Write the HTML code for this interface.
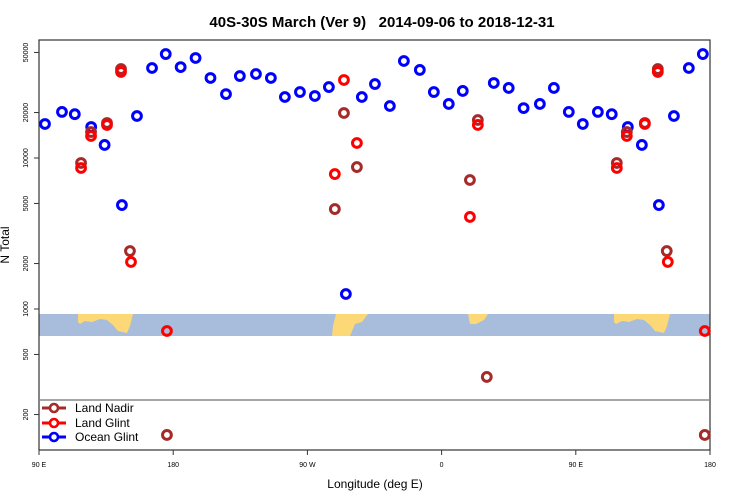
<!DOCTYPE html>
<html><head><meta charset="utf-8"><style>
body{margin:0;background:#fff;}
svg{display:block;font-family:"Liberation Sans",sans-serif;}
</style></head><body>
<svg id="chart" width="750" height="500" xmlns="http://www.w3.org/2000/svg">
<text x="382" y="27" text-anchor="middle" font-size="15" font-weight="bold">40S-30S March (Ver 9)&#160;&#160; 2014-09-06 to 2018-12-31</text>
<g id="map">
<rect x="39" y="314" width="671" height="22" fill="#a7bddb"/>
<polygon fill="#fcd877" points="78,314 133,314 130,326 127,333 118,331 113,325 107,320 100,319 92,322 85,321 80,324 78,322"/>
<polygon fill="#fcd877" points="336,314 368,314 362,322 355,324 350,336 332,336 333,326"/>
<polygon fill="#fcd877" points="468,314 488,314 484,320 476,324 470,324"/>
<polygon fill="#fcd877" points="614,314 670,314 667,326 664,333 655,331 650,325 644,320 637,319 629,322 622,321 616,324 614,322"/>
</g>
<g id="axes"></g>
<g id="marks"></g>
<g>
<line x1="39" y1="400" x2="710" y2="400" stroke="#888" stroke-width="1.5"/>
<g><line x1="42" y1="408" x2="66" y2="408" stroke="#a52a2a" stroke-width="3"/><circle cx="54" cy="408" r="4" fill="#fff" stroke="#a52a2a" stroke-width="2.6"/><text x="75" y="412" font-size="12">Land Nadir</text></g>
<g><line x1="42" y1="423" x2="66" y2="423" stroke="#ff0000" stroke-width="3"/><circle cx="54" cy="423" r="4" fill="#fff" stroke="#ff0000" stroke-width="2.6"/><text x="75" y="427" font-size="12">Land Glint</text></g>
<g><line x1="42" y1="437" x2="66" y2="437" stroke="#0000ff" stroke-width="3"/><circle cx="54" cy="437" r="4" fill="#fff" stroke="#0000ff" stroke-width="2.6"/><text x="75" y="441" font-size="12">Ocean Glint</text></g>
</g>
</svg>
<script>
const xTickVals=[90,180,270,360,450,540];
const xTickLabels=["90 E","180","90 W","0","90 E","180"];
const yTickVals=[200,500,1000,2000,5000,10000,20000,50000];
const oceanLon=[94,105.4,114,125,134,145.6,155.7,165.8,175,185,195,205,215.4,224.7,235.5,245.5,254.9,265,275,284.4,295.8,306.5,315.3,325.3,334.7,345.4,354.8,364.8,374.2,395,405,415,425.9,435.3,445.3,454.7,464.8,474.1,484.9,494.3,505.7,515.8,525.8,535.2];
const oceanVal=[16800,20200,19500,16050,12200,4880,18970,39450,48800,40000,45970,33880,26500,34900,36000,33880,25350,27350,25750,29500,1257,25350,30900,22100,43900,38300,27350,22800,27800,31400,29100,21400,22800,29100,20200,16800,20200,19500,16050,12200,4880,18970,39450,48800];
const nadirLon=[118.2,124.9,135.6,145,151,175.8,288.4,294.5,303.2,379,384.3,390.3,477.5,484.2,496.3,505,511,536.5];
const nadirVal=[9270,14860,17060,38800,2420,146.5,4590,19860,8710,7150,17850,355,9270,14860,17060,38800,2420,146.5];
const glintLon=[118.2,124.9,135.6,145,151.7,175.8,288.4,294.5,303.2,379,384.3,477.5,484.2,496.3,505,511.7,536.5];
const glintVal=[8590,13990,16550,37150,2050,715,7830,32870,12570,4070,16550,8590,13990,16800,37150,2050,715];

const NS="http://www.w3.org/2000/svg";
function xs(l){return 39+(l-90)*(671/450);}
function ys(v){return 309-151*Math.log10(v/1000);}
function mk(t,a,p){const e=document.createElementNS(NS,t);for(const k in a)e.setAttribute(k,a[k]);p.appendChild(e);return e;}
const ax=document.getElementById('axes');
mk('rect',{x:39,y:40,width:671,height:410,fill:'none',stroke:'#333','stroke-width':1.2},ax);
xTickVals.forEach((v,i)=>{
  mk('line',{x1:xs(v),y1:450,x2:xs(v),y2:455,stroke:'#333'},ax);
  const t=mk('text',{x:xs(v),y:467,'font-size':7,'text-anchor':'middle'},ax);t.textContent=xTickLabels[i];
  
  
});
yTickVals.forEach(v=>{
  const y=ys(v);
  mk('line',{x1:34,y1:y,x2:39,y2:y,stroke:'#333'},ax);
  const t=mk('text',{x:28,y:y,'font-size':7,'text-anchor':'middle',transform:`rotate(-90 28 ${y})`},ax);t.textContent=v;
  
  
});
const xt=mk('text',{x:375,y:488,'font-size':12,'text-anchor':'middle'},ax);xt.textContent='Longitude (deg E)';


const yt=mk('text',{x:9,y:245,'font-size':12,'text-anchor':'middle',transform:'rotate(-90 9 245)'},ax);yt.textContent='N Total';


const mg=document.getElementById('marks');
function series(lons,vals,col,name){
  const g=mk('g',{},mg);
  
  
  lons.forEach((l,i)=>{
    const c=mk('circle',{cx:xs(l),cy:ys(vals[i]),r:4.4,fill:'none',stroke:col,'stroke-width':3},g);
    
    
  });
}
series(oceanLon,oceanVal,'#0000ff','series-ocean-glint');
series(nadirLon,nadirVal,'#a52a2a','series-land-nadir');
series(glintLon,glintVal,'#ff0000','series-land-glint');
</script>
</body></html>
